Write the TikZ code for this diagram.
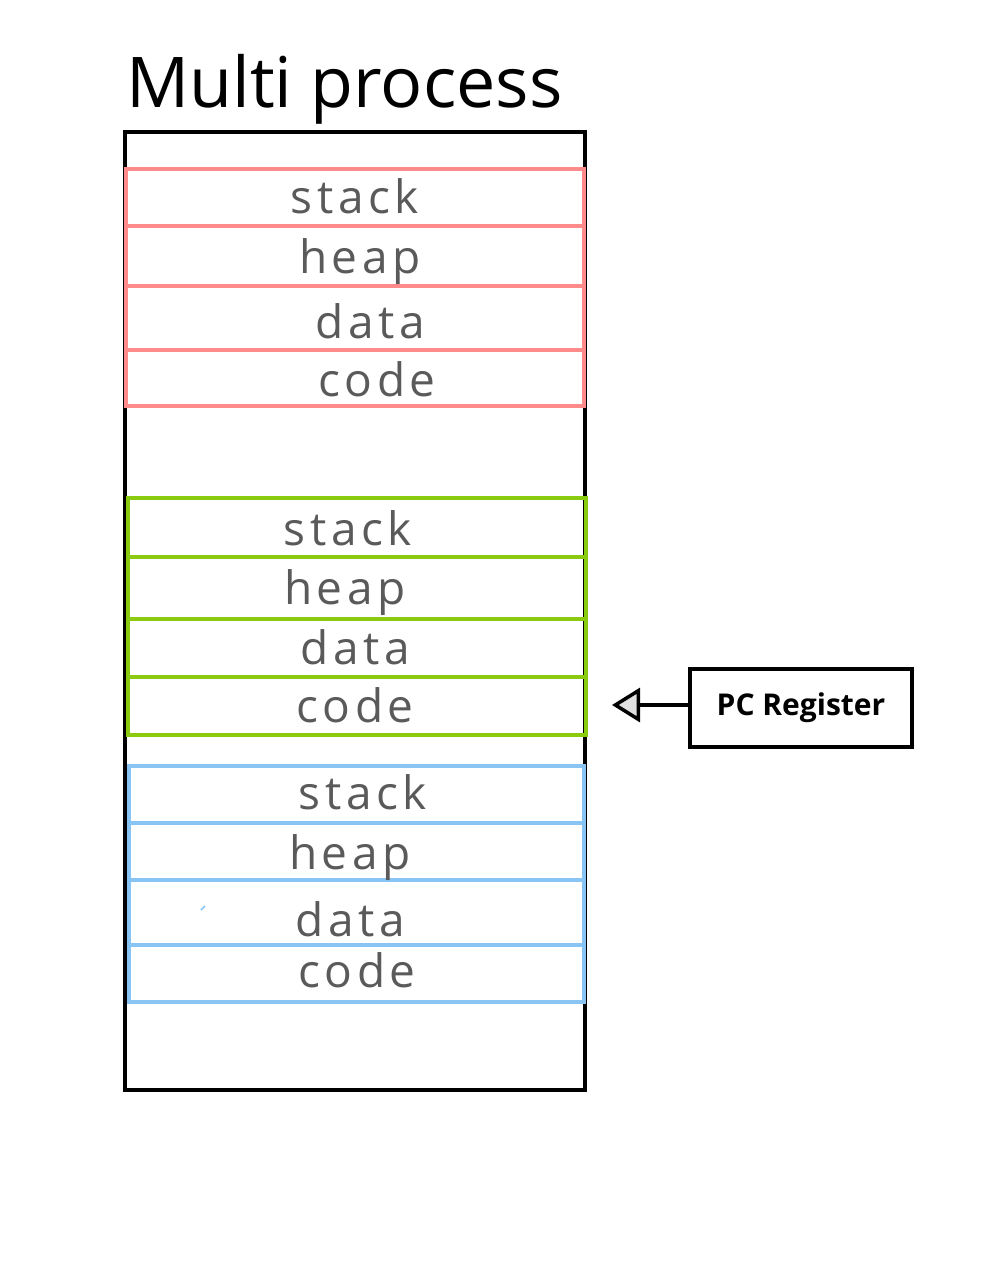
\documentclass[tikz,border=0pt]{standalone}
\usepackage{fontspec}
\setmainfont{Open Sans}
\newfontfamily\handfont[LetterSpace=10]{Open Sans}
\usetikzlibrary{arrows.meta}
\definecolor{redc}{HTML}{FF8A8A}
\definecolor{greenc}{HTML}{8ACB10}
\definecolor{bluec}{HTML}{88C4F4}
\definecolor{txtc}{HTML}{5A5A5A}
\begin{document}
\begin{tikzpicture}[x=1pt,y=-1pt,
  rowbox/.style={draw=#1, line width=3.8pt, minimum height=57pt, minimum width=458pt, inner sep=0pt, outer sep=0pt},
  lbl/.style={text=txtc, font=\handfont\fontsize{46}{46}\selectfont, inner sep=0pt, anchor=base},
  outerbox/.style={draw=black, line width=3.8pt, inner sep=0pt},
  pcbox/.style={draw=black, line width=3.5pt, minimum width=222pt, minimum height=78pt, inner sep=0pt, font=\fontsize{30}{30}\selectfont\bfseries}]
\useasboundingbox (0,0) rectangle (1000,1273);
\node[font=\fontsize{70}{70}\selectfont, anchor=base west, inner sep=0pt] (title) at (126,108) {Multi process};
\node[outerbox, minimum width=460pt, minimum height=958pt] (outer) at (355,611) {};
% red group
\node[rowbox=redc, minimum height=57pt] (r1) at (355,197.5) {};
\node[rowbox=redc, minimum height=60pt] (r2) at (355,256) {};
\node[rowbox=redc, minimum height=64pt] (r3) at (355,318) {};
\node[rowbox=redc, minimum height=56pt] (r4) at (355,378) {};
\node[lbl] (r1t) at (355,214) {stack};
\node[lbl] (r2t) at (360,273) {heap};
\node[lbl] (r3t) at (370,338) {data};
\node[lbl] (r4t) at (377,396) {code};
% green group
\node[rowbox=greenc, minimum height=59pt] (g1) at (357,527.5) {};
\node[rowbox=greenc, minimum height=62pt] (g2) at (357,588) {};
\node[rowbox=greenc, minimum height=58pt] (g3) at (357,648) {};
\node[rowbox=greenc, minimum height=58pt] (g4) at (357,706) {};
\node[lbl] (g1t) at (348,545) {stack};
\node[lbl] (g2t) at (345,604) {heap};
\node[lbl] (g3t) at (355,664) {data};
\node[lbl] (g4t) at (355,722) {code};
% blue group
\node[rowbox=bluec, minimum width=455pt, minimum height=57pt] (b1) at (356.5,794.5) {};
\node[rowbox=bluec, minimum width=455pt, minimum height=57pt] (b2) at (356.5,851.5) {};
\node[rowbox=bluec, minimum width=455pt, minimum height=65pt] (b3) at (356.5,912.5) {};
\node[rowbox=bluec, minimum width=455pt, minimum height=57pt] (b4) at (356.5,973.5) {};
\node[lbl] (b1t) at (363,809) {stack};
\node[lbl] (b2t) at (350,869) {heap};
\node[lbl] (b3t) at (350,936) {data};
\node[lbl] (b4t) at (357,987) {code};
\coordinate (m1) at (201,910);
\coordinate (m2) at (205,906);
\draw[bluec, line width=1.5pt] (m1) -- (m2);
% PC register
\node[pcbox] (pc) at (801,708) {PC Register};
\coordinate (tip) at (612,705);
\draw[line width=3.5pt, -{Triangle[length=28pt,width=34pt,fill=black!12]}] (pc.west |- tip) -- (tip);
\end{tikzpicture}
\end{document}
